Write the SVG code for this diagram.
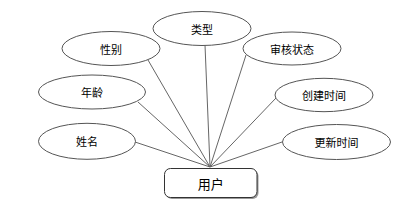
<svg xmlns="http://www.w3.org/2000/svg" width="413" height="215" viewBox="0 0 413 215">
<style>
.e{fill:#fff;stroke:#555;stroke-width:1}
.t{font-family:"Noto Sans CJK SC","Liberation Sans",sans-serif;font-size:11px;fill:#000;text-anchor:middle;dominant-baseline:central}
.c line{stroke:#666;stroke-width:1}
</style>
<rect width="413" height="215" fill="#fff"/>
<g class="c" id="connectors">
<line x1="148" y1="60" x2="210" y2="167"/>
<line x1="138" y1="102" x2="210" y2="167"/>
<line x1="205" y1="45" x2="210" y2="167"/>
<line x1="246" y1="55" x2="210" y2="167"/>
<line x1="276" y1="98" x2="210" y2="167"/>
<line x1="135" y1="142" x2="210" y2="167"/>
<line x1="282" y1="142" x2="210" y2="167"/>
</g>
<g id="n-type"><ellipse class="e" cx="202" cy="28.5" rx="49" ry="17"/><text class="t" x="202" y="28.5">类型</text></g>
<g id="n-gender"><ellipse class="e" cx="111" cy="48.5" rx="49" ry="17"/><text class="t" x="111" y="48.5">性别</text></g>
<g id="n-audit"><ellipse class="e" cx="292" cy="48.5" rx="49" ry="16.5"/><text class="t" x="292" y="48.5">审核状态</text></g>
<g id="n-age"><ellipse class="e" cx="92" cy="92" rx="53.5" ry="17"/><text class="t" x="92" y="92">年龄</text></g>
<g id="n-created"><ellipse class="e" cx="324" cy="95" rx="49" ry="16.7"/><text class="t" x="324" y="95">创建时间</text></g>
<g id="n-name"><ellipse class="e" cx="87" cy="141.3" rx="48.5" ry="18"/><text class="t" x="87" y="141.3">姓名</text></g>
<g id="n-updated"><ellipse class="e" cx="336.5" cy="142" rx="54" ry="17.5"/><text class="t" x="336.5" y="142">更新时间</text></g>
<g id="n-user">
<rect x="166" y="170" width="92.5" height="29" rx="6" fill="#999" stroke="none"/>
<rect x="164.5" y="168.5" width="92.5" height="29" rx="6" fill="#fff" stroke="#333" stroke-width="1"/>
<text class="t" x="210.75" y="183" style="font-size:13px">用户</text>
</g>
</svg>
